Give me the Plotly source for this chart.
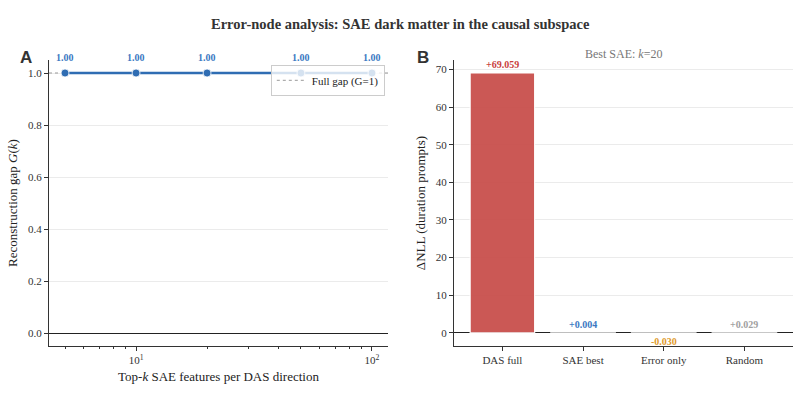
import plotly.graph_objects as go
import numpy as np

# ---- data ----
k_values = [5, 10, 20, 50, 100]
gap_values = [1.0, 1.0, 1.0, 1.0, 1.0]
full_gap = 1.0

conditions = ["DAS full", "SAE best", "Error only", "Random"]
delta_nll = [69.059, 0.004, -0.030, 0.029]
bar_colors = ["#c9504c", "#3a78c2", "#e09a2a", "#a8a8a8"]
label_colors = ["#c9403c", "#3a78c2", "#e09a2a", "#a0a0a0"]
best_k = 20

left_yticks = [0, 0.2, 0.4, 0.6, 0.8, 1.0]
right_yticks = [0, 10, 20, 30, 40, 50, 60, 70]

SERIF = "Liberation Serif, Times New Roman, serif"
BLUE = "#2f6db3"
X_LOG_RANGE = [0.631, 2.068]

fig = go.Figure()

# reference line (full gap) spanning the axis
fig.add_trace(go.Scatter(
    x=[10 ** X_LOG_RANGE[0], 10 ** X_LOG_RANGE[1]], y=[full_gap, full_gap], mode="lines",
    name="Full gap (G=1)", line=dict(color="#999999", width=1, dash="dot"),
    showlegend=True, xaxis="x", yaxis="y", hoverinfo="skip"))

# Left panel: reconstruction gap
fig.add_trace(go.Scatter(
    x=k_values, y=gap_values, mode="lines+markers",
    line=dict(color=BLUE, width=2.5),
    marker=dict(size=8, color=BLUE, line=dict(color="white", width=0.8)),
    showlegend=False, xaxis="x", yaxis="y", cliponaxis=False))

for k, g in zip(k_values, gap_values):
    fig.add_annotation(x=np.log10(k), y=g, xref="x", yref="y", text=f"<b>{g:.2f}</b>",
                       showarrow=False, yshift=16, font=dict(family=SERIF, size=10, color="#3a78c2"))

# Right panel: bars
fig.add_trace(go.Bar(
    x=conditions, y=delta_nll, marker=dict(color=bar_colors, line=dict(color="white", width=1.2)),
    width=0.8, opacity=0.95, showlegend=False, xaxis="x2", yaxis="y2"))
for c, v, col in zip(conditions, delta_nll, label_colors):
    txt = f"+{v:.3f}" if v >= 0 else f"{v:.3f}"
    fig.add_annotation(x=c, y=v, xref="x2", yref="y2", text=f"<b>{txt}</b>", showarrow=False,
                       yshift=8 if v >= 0 else -8, font=dict(family=SERIF, size=10, color=col))

axis_common = dict(showline=True, linecolor="#333333", linewidth=1.3, ticks="outside",
                   ticklen=4, tickcolor="#333333", tickfont=dict(family=SERIF, size=11, color="#333333"))

minor_vals = [m * 10 ** e for e in (0, 1) for m in range(2, 10)]
fig.update_layout(
    width=800, height=400, margin=dict(l=0, r=0, t=0, b=0),
    paper_bgcolor="white", plot_bgcolor="white",
    font=dict(family=SERIF, color="#333333"),
    xaxis=dict(domain=[0.06125, 0.485], type="log", range=X_LOG_RANGE,
               tickvals=[10, 100], ticktext=["10<sup>1</sup>", "10<sup>2</sup>"],
               minor=dict(tickvals=minor_vals, ticklen=2, ticks="outside", tickcolor="#333333", showgrid=False),
               showgrid=False, zeroline=False,
               title=dict(text="Top-<i>k</i> SAE features per DAS direction",
                          font=dict(family=SERIF, size=13, color="#222222"), standoff=6),
               anchor="y", **axis_common),
    yaxis=dict(domain=[0.135, 0.85], range=[-0.05, 1.05], tickvals=left_yticks,
               tickformat=".1f", showgrid=True, gridcolor="#ebebeb", gridwidth=1,
               zeroline=True, zerolinecolor="#222222", zerolinewidth=1.2,
               title=dict(text="Reconstruction gap <i>G</i>(<i>k</i>)",
                          font=dict(family=SERIF, size=13, color="#222222"), standoff=7),
               anchor="x", **axis_common),
    xaxis2=dict(domain=[0.5675, 0.991], range=[-0.6, 3.6], showgrid=False, zeroline=False,
                anchor="y2", **axis_common),
    yaxis2=dict(domain=[0.135, 0.85], range=[-3.48, 72.5], tickvals=right_yticks,
                showgrid=True, gridcolor="#ebebeb", gridwidth=1,
                zeroline=True, zerolinecolor="#222222", zerolinewidth=1.2,
                title=dict(text="ΔNLL (duration prompts)",
                           font=dict(family=SERIF, size=13, color="#222222"), standoff=7),
                anchor="x2", **axis_common),
    legend=dict(x=0.481, y=0.838, xanchor="right", yanchor="top",
                bgcolor="rgba(255,255,255,0.8)", bordercolor="#cccccc", borderwidth=1,
                font=dict(family=SERIF, size=11, color="#222222"), itemwidth=30,
                tracegroupgap=0),
    bargap=0.2,
)

fig.add_annotation(text="<b>Error-node analysis: SAE dark matter in the causal subspace</b>",
                   xref="paper", yref="paper", x=0.5, y=1 - 14 / 400, showarrow=False,
                   font=dict(family=SERIF, size=14.5, color="#333333"))
fig.add_annotation(text="<b>A</b>", xref="paper", yref="paper", x=18 / 800, y=1 - 46 / 400,
                   showarrow=False, font=dict(family="Liberation Sans, Arial, sans-serif", size=17, color="#333333"))
fig.add_annotation(text="<b>B</b>", xref="paper", yref="paper", x=423 / 800, y=1 - 46 / 400,
                   showarrow=False, font=dict(family="Liberation Sans, Arial, sans-serif", size=17, color="#333333"))
fig.add_annotation(text=f"Best SAE: <i>k</i>={best_k}", xref="x2 domain", yref="paper", x=0.5, y=1 - 45 / 400,
                   showarrow=False, font=dict(family=SERIF, size=12, color="#777777"))

fig.write_html("out.html")
